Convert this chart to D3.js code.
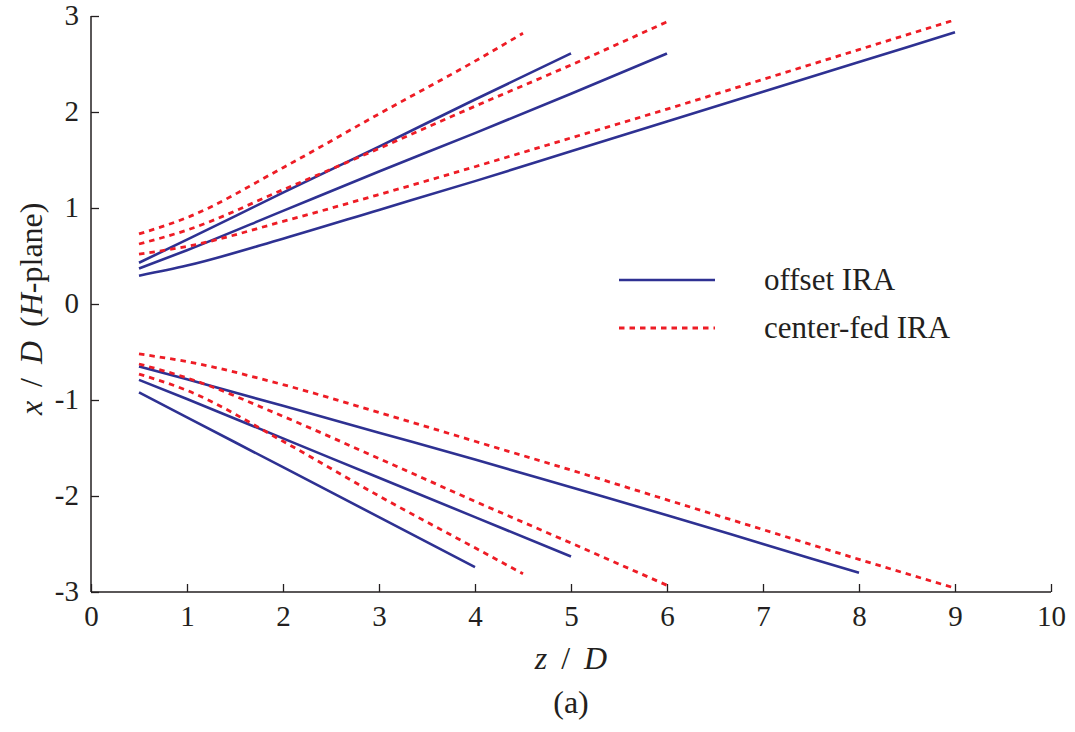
<!DOCTYPE html>
<html>
<head>
<meta charset="utf-8">
<script src="https://cdn.jsdelivr.net/npm/d3@7"></script>
<style>html, body { margin: 0; padding: 0; background: #fff; }</style>
</head>
<body>
<svg id="chart" width="1075" height="732"></svg>
<script>
// Beam boundary traces x/D versus z/D (H-plane)
// Offset IRA (solid), upper edges
const zOffU1 = [0.5, 1, 2, 3, 4, 5];
const xOffU1 = [0.43, 0.67, 1.16, 1.64, 2.13, 2.61];
const zOffU2 = [0.5, 1, 2, 3, 4, 5, 6];
const xOffU2 = [0.37, 0.56, 0.97, 1.38, 1.78, 2.19, 2.61];
const zOffU3 = [0.5, 1, 2, 3, 4, 5, 6, 7, 8, 9];
const xOffU3 = [0.295, 0.40, 0.68, 0.98, 1.28, 1.59, 1.90, 2.21, 2.52, 2.83];
// Offset IRA (solid), lower edges
const zOffL1 = [0.5, 1, 2, 3, 4];
const xOffL1 = [-0.92, -1.18, -1.70, -2.22, -2.74];
const zOffL2 = [0.5, 1, 2, 3, 4, 5];
const xOffL2 = [-0.79, -0.99, -1.40, -1.81, -2.22, -2.63];
const zOffL3 = [0.5, 1, 2, 3, 4, 5, 6, 7, 8];
const xOffL3 = [-0.65, -0.785, -1.06, -1.34, -1.62, -1.91, -2.20, -2.50, -2.80];

// Center-fed IRA (dashed), upper edges
const zCenU1 = [0.5, 1, 2, 3, 4, 4.5];
const xCenU1 = [0.73, 0.90, 1.42, 1.98, 2.53, 2.82];
const zCenU2 = [0.5, 1, 2, 3, 4, 5, 6];
const xCenU2 = [0.625, 0.77, 1.19, 1.62, 2.06, 2.49, 2.94];
const zCenU3 = [0.5, 1, 2, 3, 4, 5, 6, 7, 8, 9];
const xCenU3 = [0.52, 0.60, 0.86, 1.14, 1.43, 1.73, 2.03, 2.34, 2.65, 2.96];
// Center-fed IRA (dashed), lower edges
const zCenL1 = [0.5, 1, 2, 3, 4, 4.5];
const xCenL1 = [-0.73, -0.90, -1.43, -2.00, -2.54, -2.81];
const zCenL2 = [0.5, 1, 2, 3, 4, 5, 6];
const xCenL2 = [-0.625, -0.77, -1.17, -1.61, -2.055, -2.49, -2.93];
const zCenL3 = [0.5, 1, 2, 3, 4, 5, 6, 7, 8, 9];
const xCenL3 = [-0.52, -0.60, -0.84, -1.13, -1.43, -1.73, -2.04, -2.35, -2.66, -2.96];

const xTicks = [0, 1, 2, 3, 4, 5, 6, 7, 8, 9, 10];
const yTicks = [-3, -2, -1, 0, 1, 2, 3];
const seriesNames = ["offset IRA", "center-fed IRA"];

const BLUE = "#2e3192";
const RED = "#ee1c25";
const INK = "#231f20";
const SERIF = '"Liberation Serif"';

const svg = d3.select("#chart")
  .attr("font-family", SERIF)
  .attr("fill", INK);
const x = d3.scaleLinear().domain([0, 10]).range([91, 1051]);
const y = d3.scaleLinear().domain([-3, 3]).range([592, 16]);

const pair = (zs, xs) => zs.map((z, i) => [z, xs[i]]);
const line = d3.line().x(d => x(d[0])).y(d => y(d[1])).curve(d3.curveMonotoneX);

const offsetTraces = [
  pair(zOffU1, xOffU1), pair(zOffU2, xOffU2), pair(zOffU3, xOffU3),
  pair(zOffL1, xOffL1), pair(zOffL2, xOffL2), pair(zOffL3, xOffL3)
];
const centerTraces = [
  pair(zCenU1, xCenU1), pair(zCenU2, xCenU2), pair(zCenU3, xCenU3),
  pair(zCenL1, xCenL1), pair(zCenL2, xCenL2), pair(zCenL3, xCenL3)
];

// Axes (left and bottom only, ticks pointing inward)
const xAxis = d3.axisBottom(x).tickValues(xTicks).tickSize(-8).tickPadding(13)
  .tickFormat(d => String(d));
const gx = svg.append("g").attr("transform", `translate(0,${y(-3)})`).call(xAxis);
gx.select(".domain").attr("d", `M${x(0)},0H${x(10)}`);

const yAxis = d3.axisLeft(y).tickValues(yTicks).tickSize(-8).tickPadding(12)
  .tickFormat(d => d < 0 ? "-" + Math.abs(d) : String(d));
const gy = svg.append("g").attr("transform", `translate(${x(0)},0)`).call(yAxis);
gy.select(".domain").attr("d", `M0,${y(3)}V${y(-3)}`);

[gx, gy].forEach(g => {
  g.attr("font-family", SERIF).attr("font-size", 29);
  g.selectAll(".domain").attr("stroke", INK).attr("stroke-width", 1.5).attr("fill", "none");
  g.selectAll(".tick line").attr("stroke", INK).attr("stroke-width", 1.3);
  g.selectAll(".tick text").attr("fill", INK).attr("font-family", SERIF).attr("font-size", 29);
});
gy.selectAll(".tick text").attr("dy", "0.28em");
gx.selectAll(".tick text").attr("dy", "0.71em");

// Traces
svg.append("g").selectAll("path").data(offsetTraces).join("path")
  .attr("d", line).attr("fill", "none").attr("stroke", BLUE)
  .attr("stroke-width", 2.6).attr("stroke-linecap", "butt");

svg.append("g").selectAll("path").data(centerTraces).join("path")
  .attr("d", line).attr("fill", "none").attr("stroke", RED)
  .attr("stroke-width", 2.8).attr("stroke-dasharray", "5.5,5");

// Legend
const legend = svg.append("g");
const legendRows = [
  { name: seriesNames[0], color: BLUE, dash: null, ly: 280 },
  { name: seriesNames[1], color: RED, dash: "5.5,5", ly: 328 }
];
legendRows.forEach(r => {
  legend.append("line").attr("x1", 619).attr("x2", 715).attr("y1", r.ly).attr("y2", r.ly)
    .attr("stroke", r.color).attr("stroke-width", r.dash ? 2.8 : 2.6)
    .attr("stroke-dasharray", r.dash);
  legend.append("text").attr("x", 764).attr("y", r.ly + 10)
    .attr("font-family", SERIF).attr("font-size", 31).attr("fill", INK).text(r.name);
});

// Axis titles
const xt = svg.append("text").attr("x", x(5)).attr("y", 669).attr("text-anchor", "middle")
  .attr("font-family", SERIF).attr("font-size", 32).attr("word-spacing", 6).attr("fill", INK);
xt.append("tspan").attr("font-style", "italic").text("z");
xt.append("tspan").text(" / ");
xt.append("tspan").attr("font-style", "italic").text("D");

svg.append("text").attr("x", x(5)).attr("y", 713).attr("text-anchor", "middle")
  .attr("font-family", SERIF).attr("font-size", 32).attr("fill", INK).text("(a)");

const yt = svg.append("text").attr("transform", `translate(42,${y(-0.05)}) rotate(-90)`)
  .attr("text-anchor", "middle").attr("font-family", SERIF).attr("font-size", 32)
  .attr("word-spacing", 6).attr("fill", INK);
yt.append("tspan").attr("font-style", "italic").text("x");
yt.append("tspan").text(" / ");
yt.append("tspan").attr("font-style", "italic").text("D");
yt.append("tspan").text(" (");
yt.append("tspan").attr("font-style", "italic").text("H");
yt.append("tspan").text("-plane)");
</script>
</body>
</html>
